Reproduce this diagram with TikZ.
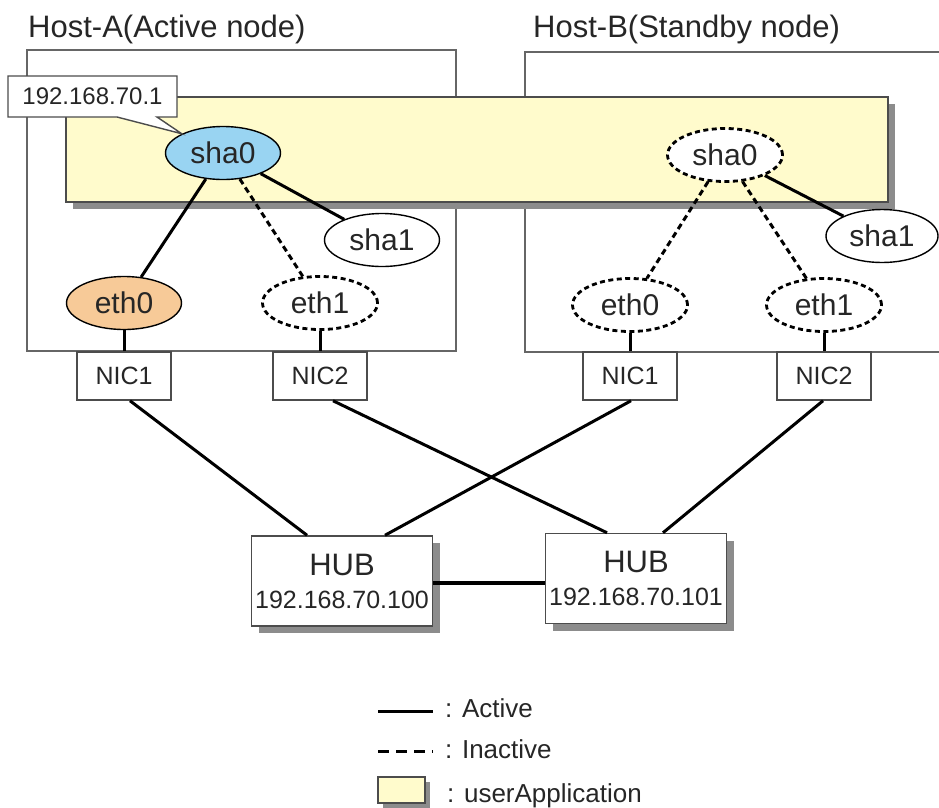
\documentclass[tikz,border=0pt]{standalone}
\usepackage{fontspec}
\setmainfont{Liberation Sans}
\usetikzlibrary{shapes.geometric,shapes.callouts,shadows,calc}
\definecolor{appyellow}{RGB}{255,251,204}
\definecolor{shablue}{RGB}{153,212,242}
\definecolor{ethorange}{RGB}{247,202,152}
\definecolor{framegray}{RGB}{102,102,102}
\begin{document}
\begin{tikzpicture}[
  x=1pt,
  y=-1pt,
  font=\fontsize{30}{36}\selectfont,
  text=black!85,
  hostframe/.style={draw=framegray, line width=2pt},
  boxshadow/.style={
    drop shadow={shadow xshift=#1, shadow yshift=-#1, fill=black!45, opacity=1}
  },
  appbox/.style={draw=black!70, line width=1.8pt, fill=appyellow},
  iface/.style={
    ellipse,
    draw=black,
    fill=white,
    line width=1.4pt,
    minimum width=115pt,
    minimum height=53pt,
    inner sep=0pt
  },
  ifidle/.style={iface, line width=2.8pt, dash pattern=on 5pt off 3.5pt},
  nic/.style={
    rectangle,
    draw=black!70,
    fill=white,
    line width=1.5pt,
    minimum width=94pt,
    minimum height=48pt,
    inner sep=0pt,
    font=\fontsize{25}{30}\selectfont
  },
  hub/.style={
    rectangle,
    draw=black!70,
    fill=white,
    line width=1.5pt,
    minimum width=181pt,
    minimum height=90pt,
    inner sep=0pt,
    align=center,
    font=\fontsize{25}{33}\selectfont,
    boxshadow=7pt
  },
  ipcallout/.style={
    rectangle callout,
    draw=black!70,
    fill=white,
    line width=1.4pt,
    minimum width=169pt,
    minimum height=41pt,
    inner sep=0pt,
    callout pointer width=40pt,
    font=\fontsize{24}{28}\selectfont
  },
  active/.style={draw=black, line width=3pt},
  inactive/.style={draw=black, line width=3pt, dash pattern=on 6pt off 4pt},
  hosttitle/.style={anchor=base west, inner sep=0pt, font=\fontsize{31}{36}\selectfont},
  legendtext/.style={anchor=base west, inner sep=0pt, font=\fontsize{26}{30}\selectfont}
]
\useasboundingbox (0,0) rectangle (939,807);

% ---------------------------------------------------------------------------
% Hosts and userApplication
% ---------------------------------------------------------------------------
\node[hosttitle] (titleA) at (28,37) {Host-A(Active node)};
\node[hosttitle] (titleB) at (533,37) {Host-B(Standby node)};
\draw[hostframe] (27,50) rectangle (456,351);
\draw[hostframe] (939,52) -- (525,52) -- (525,352) -- (939,352);
\path[appbox, boxshadow=7pt] (66,97) rectangle (888,202);

% ---------------------------------------------------------------------------
% Host-A interfaces
% ---------------------------------------------------------------------------
\node[iface, fill=shablue] (shaA0) at (223,153) {sha0};
\node[iface] (shaA1) at (382,240) {sha1};
\node[iface, fill=ethorange] (ethA0) at (124,303) {eth0};
\node[ifidle] (ethA1) at (320,303) {eth1};
\node[nic] (nicA1) at (124,376) {NIC1};
\node[nic] (nicA2) at (320,376) {NIC2};
\draw[active] (shaA0) -- (ethA0);
\draw[inactive] (shaA0) -- (ethA1);
\draw[active] (shaA0) -- (shaA1);
\draw[active] (ethA0) -- (nicA1);
\draw[active] (ethA1) -- (nicA2);
\node[ipcallout, callout absolute pointer={(shaA0.north west)}] (ipA)
  at (92.5,96.5) {192.168.70.1};

% ---------------------------------------------------------------------------
% Host-B interfaces
% ---------------------------------------------------------------------------
\node[ifidle] (shaB0) at (725,155) {sha0};
\node[iface, minimum width=112pt] (shaB1) at (882,236) {sha1};
\node[ifidle] (ethB0) at (630,305) {eth0};
\node[ifidle] (ethB1) at (824,305) {eth1};
\node[nic] (nicB1) at (630,376) {NIC1};
\node[nic] (nicB2) at (824,376) {NIC2};
\draw[inactive] (shaB0) -- (ethB0);
\draw[inactive] (shaB0) -- (ethB1);
\draw[active] (shaB0) -- (shaB1);
\draw[active] (ethB0) -- (nicB1);
\draw[active] (ethB1) -- (nicB2);

% ---------------------------------------------------------------------------
% HUBs
% ---------------------------------------------------------------------------
\node[hub] (hubA) at (342,581) {{\fontsize{31}{33}\selectfont HUB}\\192.168.70.100};
\node[hub] (hubB) at (636,578.5) {{\fontsize{31}{33}\selectfont HUB}\\192.168.70.101};
\draw[active] ($(nicA1.south)+(6,0)$) -- ($(hubA.north)+(-35,0)$);
\draw[active] ($(nicA2.south)+(13,0)$) -- ($(hubB.north)+(-29,0)$);
\draw[active] ($(nicB1.south)+(1,0)$) -- ($(hubA.north)+(43,0)$);
\draw[active] ($(nicB2.south)+(-1,0)$) -- ($(hubB.north)+(27,0)$);
\draw[active, line width=4pt] ($(hubA.east)+(0,2)$) -- ($(hubB.west)+(0,4.5)$);

% Legend.
\coordinate (actL) at (378,711);
\coordinate (actR) at (433,711);
\draw[active] (actL) -- (actR);
\node[legendtext] (actlbl) at (445,717) {: Active};
\coordinate (inaL) at (378,751);
\coordinate (inaR) at (433,751);
\draw[inactive, dash pattern=on 11pt off 7pt] (inaL) -- (inaR);
\node[legendtext] (inalbl) at (445,758) {: Inactive};
\path[appbox, line width=1.5pt, boxshadow=5pt] (378,777) rectangle (425,803);
\node[legendtext] (applbl) at (447,802) {: userApplication};
\end{tikzpicture}
\end{document}
